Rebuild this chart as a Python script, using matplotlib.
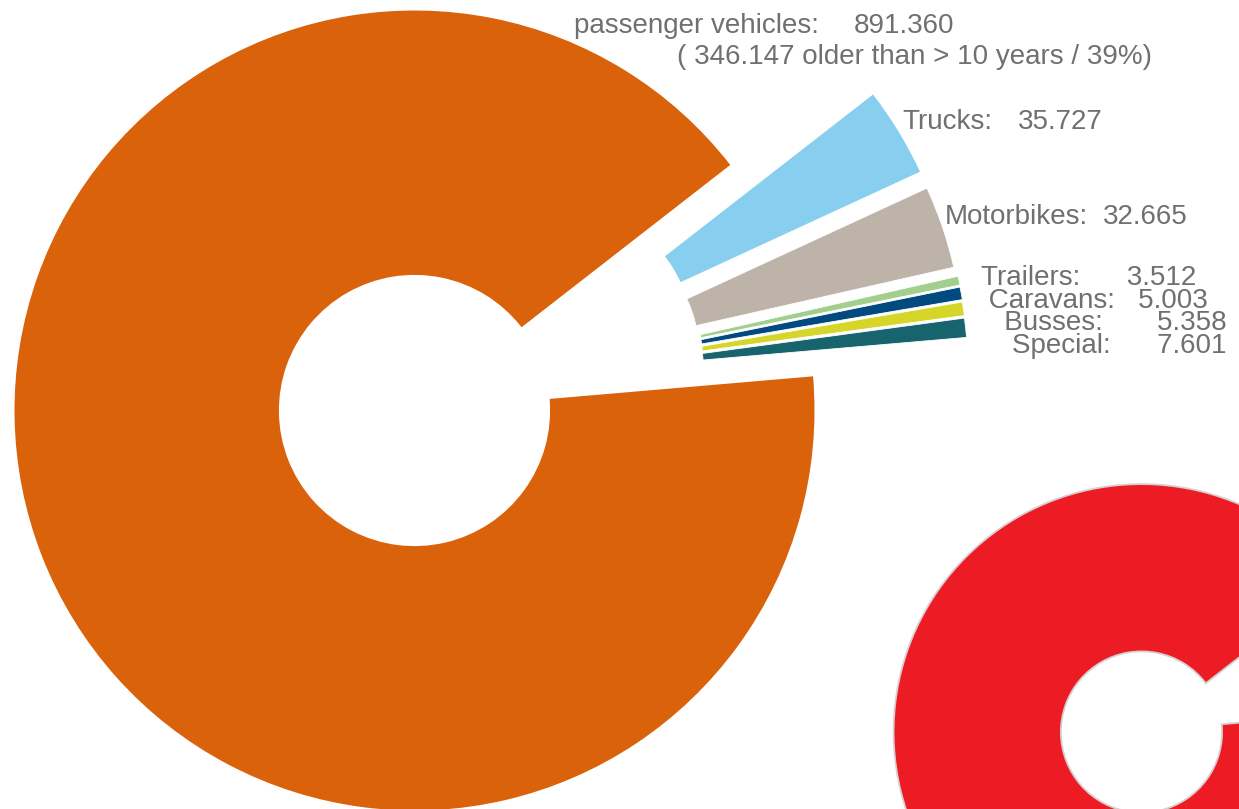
import matplotlib
matplotlib.use("Agg")
import matplotlib.pyplot as plt
from matplotlib.patches import Wedge

# ---------------- data ----------------
categories = ["passenger vehicles", "Trucks", "Motorbikes", "Trailers",
              "Caravans", "Busses", "Special"]
values = [891360, 35727, 32665, 3512, 5003, 5358, 7601]
passenger_older_10y = 346147
passenger_older_share = "39%"

# ---------------- style ----------------
colors = ["#D9620B", "#87CEEF", "#BEB3A8", "#A2CF8E", "#004A80", "#D6D62A", "#17646E"]
text_color = "#707070"
logo_color = "#ED1C24"

W, H = 1239, 809
CX, CY, R = 414.5, 410.5, 400.0          # main donut centre / radius in pixels
# explosion of each slice (pixels: right, up)
explode_px = [(0, 0), (142.8, 71.0), (149.2, 54.8), (153.5, 45.8),
              (153.5, 43.8), (153.5, 41.4), (153.5, 38.9)]

plt.rcParams['font.family'] = ['Liberation Sans', 'DejaVu Sans']

fig = plt.figure(figsize=(W / 100, H / 100), dpi=100)
ax = fig.add_axes([0, 0, 1, 1])

wedges, _ = ax.pie(values, colors=colors, startangle=4.9, counterclock=False,
                   radius=1.0,
                   wedgeprops=dict(width=0.661, edgecolor="white", linewidth=0.6))
for w, (dx, dy) in zip(wedges, explode_px):
    w.set_center((dx / R, dy / R))
wedges[0].set_linewidth(0)

ax.set_xlim(-CX / R, (W - CX) / R)
ax.set_ylim(-(H - CY) / R, CY / R)
ax.set_aspect("equal")
ax.axis("off")


def px(x, y):
    return ((x - CX) / R, (CY - y) / R)


def fmt(v):
    return f"{v:,}".replace(",", ".")


fs = 20
tkw = dict(fontsize=fs, color=text_color)

# passenger vehicles label (two lines)
ax.text(*px(574, 33), f"{categories[0]}:", ha="left", va="baseline", **tkw)
ax.text(*px(954, 33), fmt(values[0]), ha="right", va="baseline", **tkw)
ax.text(*px(677, 64),
        f"( {fmt(passenger_older_10y)} older than > 10 years / {passenger_older_share})",
        ha="left", va="baseline", **tkw)

# Trucks / Motorbikes: (name left x, value right x, baseline y)
for name, val, (xl, xr, yb) in zip(categories[1:3], values[1:3],
                                   [(902.5, 1102.5, 129), (945, 1188, 224)]):
    ax.text(*px(xl, yb), f"{name}:", ha="left", va="baseline", **tkw)
    ax.text(*px(xr, yb), fmt(val), ha="right", va="baseline", **tkw)

# tightly stacked block for the four smallest categories
lead = [0, 1, 3, 4]          # leading spaces (staggered left edge)
gap = [6, 3, 7, 6]           # spaces between name and value
rows = [" " * l + f"{n}:" + " " * g + fmt(v)
        for n, v, l, g in zip(categories[3:], values[3:], lead, gap)]
ax.text(*px(981, 265), "\n".join(rows), ha="left", va="top",
        linespacing=0.83, multialignment="left", **tkw)

# red "C" logo in the lower right corner (blurred edge imitation)
lc = px(1141.5, 732)
lR, lw_ring = 247 / R, 165.5 / R
halo = Wedge(lc, lR, 37.8, 364.9, width=lw_ring, facecolor="none",
             edgecolor="#9a8a8a", linewidth=2.6, alpha=0.4, zorder=2)
logo = Wedge(lc, lR, 37.8, 364.9, width=lw_ring, facecolor=logo_color,
             edgecolor="none", zorder=3)
ax.add_patch(halo)
ax.add_patch(logo)

fig.savefig("out.png", dpi=100, facecolor="white")
